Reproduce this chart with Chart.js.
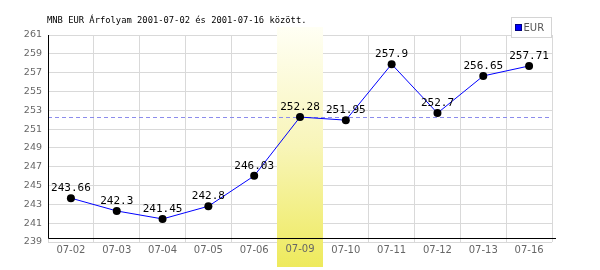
<!DOCTYPE html>
<html>
<head>
<meta charset="utf-8">
<script src="https://cdn.jsdelivr.net/npm/chart.js@4/dist/chart.umd.min.js"></script>
<style>
  html, body { margin: 0; padding: 0; background: #ffffff; }
  #wrap { width: 600px; height: 270px; position: relative; }
</style>
</head>
<body>
<div id="wrap"><canvas id="c" width="600" height="270"></canvas></div>
<script>
// ---- data ----
const titleText = 'MNB EUR Árfolyam 2001-07-02 és 2001-07-16 között.';
const seriesName = 'EUR';
const categories = ['07-02', '07-03', '07-04', '07-05', '07-06', '07-09', '07-10', '07-11', '07-12', '07-13', '07-16'];
const eurValues = [243.66, 242.3, 241.45, 242.8, 246.03, 252.28, 251.95, 257.9, 252.7, 256.65, 257.71];
const yMin = 239;
const yMax = 261;
const yStep = 2;
const highlightCategory = '07-09';
const referenceValue = 252.28;

const tickFont = { family: 'DejaVu Sans', size: 10 };
const tickColor = '#666666';

// ---- plugins ----
const highlightPlugin = {
  id: 'highlightBand',
  beforeDatasetsDraw(chart) {
    const { ctx, scales: { x } } = chart;
    const idx = categories.indexOf(highlightCategory);
    if (idx >= 0) {
      const cx = x.getPixelForValue(idx);
      const w = (x.right - x.left) / categories.length;
      const top = chart.chartArea.top - 8;
      const bottom = chart.height - 3;
      const g = ctx.createLinearGradient(0, top, 0, bottom);
      g.addColorStop(0, '#fffff4');
      g.addColorStop(0.5, '#f8f5b8');
      g.addColorStop(1, '#eeea5c');
      ctx.save();
      ctx.fillStyle = g;
      ctx.fillRect(Math.round(cx - w / 2), top, Math.round(w), bottom - top);
      // redraw the category label over the band
      ctx.fillStyle = tickColor;
      ctx.font = tickFont.size + 'px "' + tickFont.family + '"';
      ctx.textAlign = 'center';
      ctx.textBaseline = 'top';
      ctx.fillText(categories[idx], cx, x.top + 2);
      ctx.restore();
    }
    ctx.save();
    // reference dashed line
    const ry = Math.round(chart.scales.y.getPixelForValue(referenceValue)) + 0.5;
    ctx.strokeStyle = '#8c8cec';
    ctx.lineWidth = 1;
    ctx.setLineDash([4, 3]);
    ctx.beginPath();
    ctx.moveTo(chart.chartArea.left, ry);
    ctx.lineTo(chart.chartArea.right, ry);
    ctx.stroke();
    ctx.setLineDash([]);
    // black frame lines (left and bottom)
    ctx.strokeStyle = '#000000';
    ctx.beginPath();
    ctx.moveTo(chart.chartArea.left + 0.5, chart.chartArea.top);
    ctx.lineTo(chart.chartArea.left + 0.5, chart.chartArea.bottom - 3.5);
    ctx.lineTo(chart.chartArea.right + 4, chart.chartArea.bottom - 3.5);
    ctx.stroke();
    ctx.restore();
  },
  afterDraw(chart) {
    const { ctx } = chart;
    ctx.save();
    // title
    ctx.fillStyle = '#000000';
    ctx.font = '8.8px "DejaVu Sans Mono"';
    ctx.textBaseline = 'middle';
    ctx.textAlign = 'left';
    ctx.fillText(titleText, chart.chartArea.left - 1, 21);
    // legend
    const lx = chart.chartArea.right - 40.5, ly = 17.5, lw = 40, lh = 20;
    ctx.fillStyle = '#ffffff';
    ctx.fillRect(lx, ly, lw, lh);
    ctx.strokeStyle = '#d4d4d4';
    ctx.lineWidth = 1;
    ctx.strokeRect(lx, ly, lw, lh);
    ctx.fillStyle = '#0000ff';
    ctx.fillRect(lx + 4, ly + 7, 6, 6);
    ctx.strokeStyle = '#000080';
    ctx.strokeRect(lx + 4, ly + 7, 6, 6);
    ctx.fillStyle = '#555555';
    ctx.font = '10px "DejaVu Sans"';
    ctx.textBaseline = 'middle';
    ctx.fillText(seriesName, lx + 12, ly + 10.5);
    ctx.restore();
  },
  afterDatasetsDraw(chart) {
    const { ctx } = chart;
    const meta = chart.getDatasetMeta(0);
    ctx.save();
    ctx.fillStyle = '#000000';
    ctx.font = '11px "DejaVu Sans Mono"';
    ctx.textAlign = 'center';
    ctx.textBaseline = 'middle';
    meta.data.forEach((pt, i) => {
      ctx.fillText(String(eurValues[i]), pt.x, pt.y - 10);
    });
    ctx.restore();
  }
};

new Chart(document.getElementById('c'), {
  type: 'line',
  data: {
    labels: categories,
    datasets: [{
      label: seriesName,
      data: eurValues,
      borderColor: '#0000ff',
      borderWidth: 1,
      pointRadius: 4,
      pointBackgroundColor: '#000000',
      pointBorderColor: '#000000',
      pointBorderWidth: 0,
      tension: 0,
      fill: false
    }]
  },
  options: {
    responsive: false,
    animation: false,
    devicePixelRatio: 1,
    layout: { padding: { top: 35, right: 48, left: 0, bottom: 0 } },
    plugins: {
      legend: { display: false },
      title: { display: false },
      tooltip: { enabled: false }
    },
    scales: {
      x: {
        offset: true,
        grid: { offset: true, color: '#d9d9d9', lineWidth: 1, drawTicks: false },
        border: { display: false },
        ticks: { color: tickColor, font: tickFont, padding: 2, maxRotation: 0, autoSkip: false },
        afterFit(scale) { scale.height = 28; }
      },
      y: {
        min: yMin,
        max: yMax,
        grid: { color: '#d9d9d9', lineWidth: 1, drawTicks: false },
        border: { display: false },
        ticks: { stepSize: yStep, color: tickColor, font: { family: 'DejaVu Sans', size: 9.5 }, padding: 6 },
        afterFit(scale) { scale.width = 48; }
      }
    }
  },
  plugins: [highlightPlugin]
});
</script>
</body>
</html>
